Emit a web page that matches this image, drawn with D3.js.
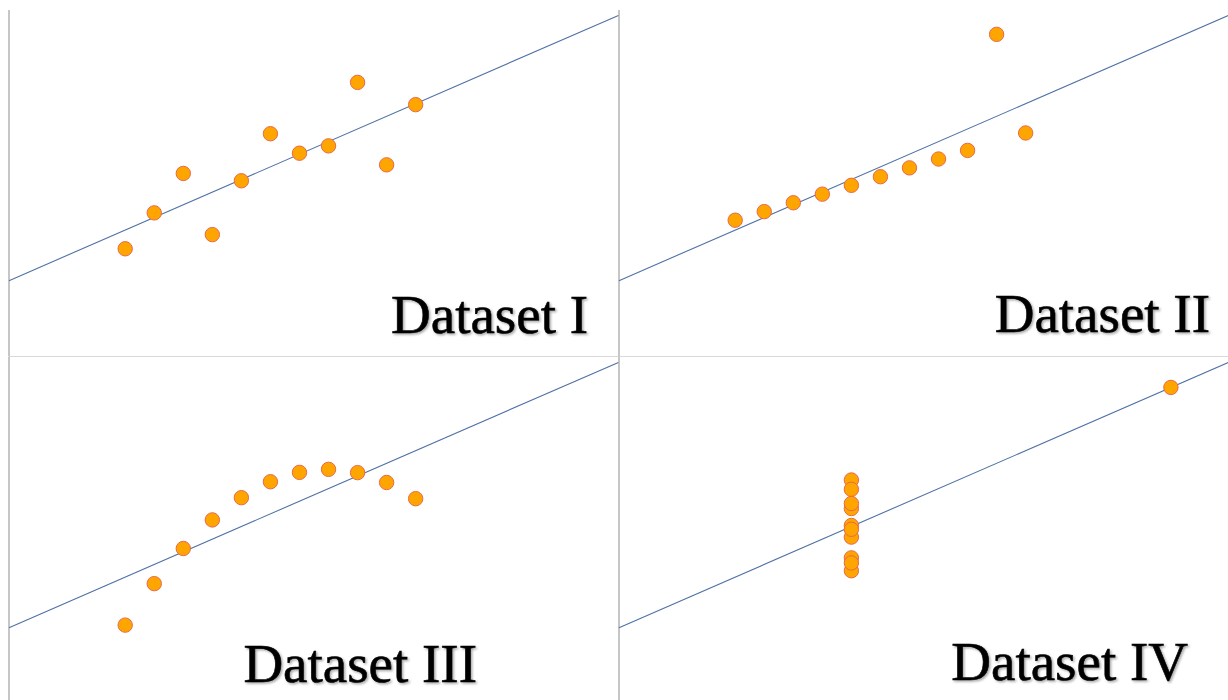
<!DOCTYPE html>
<html>
<head>
<meta charset="utf-8">
<script src="https://cdn.jsdelivr.net/npm/d3@7"></script>
<style>
  body { margin: 0; background: #fff; }
  svg { display: block; }
</style>
</head>
<body>
<script>
// Anscombe-style data
const xs = [10, 8, 13, 9, 11, 14, 6, 4, 12, 7, 5];
const ysOne = [8.04, 6.95, 7.58, 8.81, 8.33, 9.96, 7.24, 4.26, 10.84, 4.82, 5.68];
const ysTwo = [7.46, 6.77, 12.74, 7.11, 7.81, 8.84, 6.08, 5.39, 8.15, 6.42, 5.73];
const ysThree = [9.14, 8.14, 8.74, 8.77, 9.26, 8.10, 6.13, 3.10, 9.13, 7.26, 4.74];
const xsFour = [8, 8, 8, 8, 8, 8, 8, 19, 8, 8, 8];
const ysFour = [6.58, 5.76, 7.71, 8.84, 8.47, 7.04, 5.25, 12.50, 5.56, 7.91, 6.89];
const titles = ["Dataset I", "Dataset II", "Dataset III", "Dataset IV"];
const fitIntercept = 3, fitSlope = 0.5;

const width = 1228, height = 700;

// panel layout: origin of axes and where the title sits
const panels = [
  { title: titles[0], xv: xs, yv: ysOne, left: 9, bottom: 356.5, tx: 588, ty: 333 },
  { title: titles[1], xv: xs, yv: ysTwo, left: 619, bottom: 356.5, tx: 1210, ty: 332 },
  { title: titles[2], xv: xs, yv: ysThree, left: 9, bottom: 703.5, tx: 477, ty: 682 },
  { title: titles[3], xv: xsFour, yv: ysFour, left: 619, bottom: 703.5, tx: 1188, ty: 680 }
];

const svg = d3.select("body").append("svg")
  .attr("width", width)
  .attr("height", height);

const defs = svg.append("defs");
defs.append("filter")
  .attr("id", "shadow")
  .attr("x", "-10%").attr("y", "-20%")
  .attr("width", "130%").attr("height", "150%")
  .append("feDropShadow")
  .attr("dx", 1.5).attr("dy", 1.5)
  .attr("stdDeviation", 1.2)
  .attr("flood-color", "#000")
  .attr("flood-opacity", 0.35);

// x axis lines first so the vertical axes sit on top
panels.forEach(p => {
  const x = d3.scaleLinear().domain([0, 21]).range([p.left, p.left + 610]);
  svg.append("line")
    .attr("x1", x(0)).attr("x2", x(21))
    .attr("y1", p.bottom).attr("y2", p.bottom)
    .attr("stroke", "#d9d9d9")
    .attr("stroke-width", 1.2);
});

panels.forEach(p => {
  const x = d3.scaleLinear().domain([0, 21]).range([p.left, p.left + 610]);
  const y = d3.scaleLinear().domain([0, 14]).range([p.bottom, p.bottom - 354]);
  const g = svg.append("g");

  // vertical axis
  g.append("line")
    .attr("x1", x(0)).attr("x2", x(0))
    .attr("y1", p.bottom).attr("y2", y(13.7))
    .attr("stroke", "#b3b3b3")
    .attr("stroke-width", 1.5);

  // fitted line y = 3 + 0.5x
  const line = d3.line().x(d => x(d)).y(d => y(fitIntercept + fitSlope * d));
  g.append("path")
    .datum([0, 21])
    .attr("d", line)
    .attr("fill", "none")
    .attr("stroke", "#4f72a6")
    .attr("stroke-width", 1.1);

  g.selectAll("circle")
    .data(d3.zip(p.xv, p.yv))
    .join("circle")
    .attr("cx", d => x(d[0]))
    .attr("cy", d => y(d[1]))
    .attr("r", 7.2)
    .attr("fill", "#ffa500")
    .attr("stroke", "#e8694a")
    .attr("stroke-width", 1);

  g.append("text")
    .attr("x", p.tx)
    .attr("y", p.ty)
    .attr("text-anchor", "end")
    .attr("filter", "url(#shadow)")
    .style("font-family", "'Liberation Serif', serif")
    .style("font-size", "55px")
    .style("fill", "#000")
    .style("stroke", "#000")
    .style("stroke-width", "0.6px")
    .text(p.title);
});
</script>
</body>
</html>
